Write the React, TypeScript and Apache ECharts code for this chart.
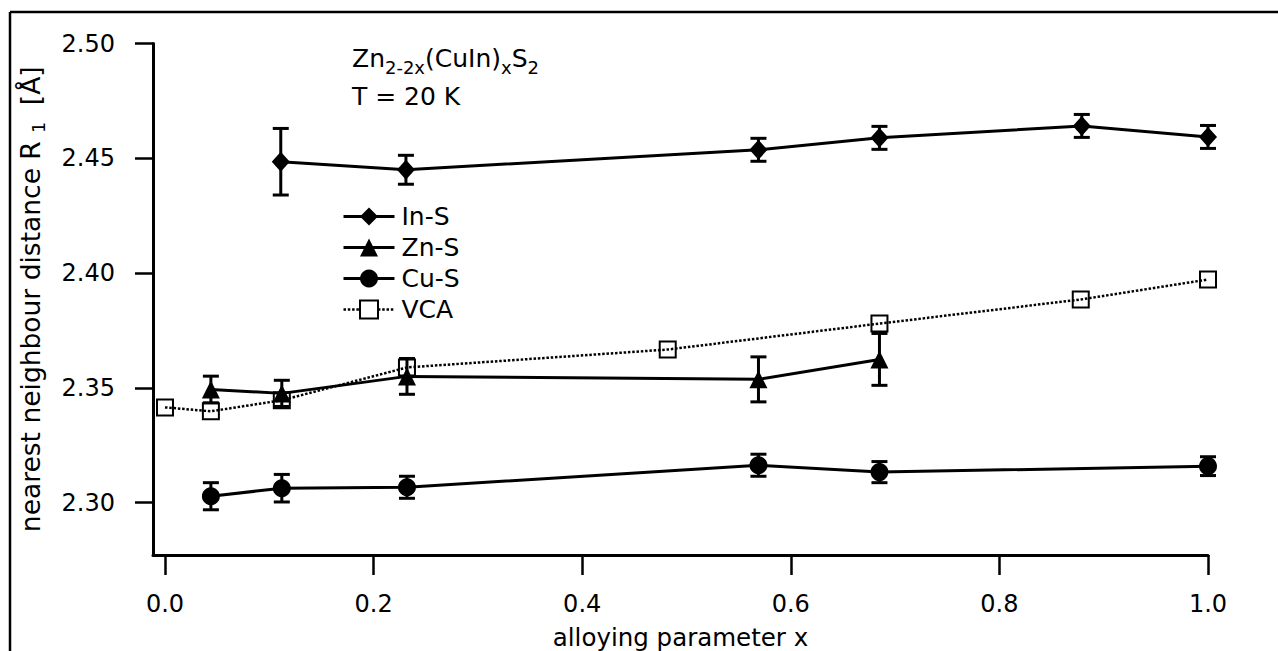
import React, { useEffect, useRef } from "react";
import * as echarts from "echarts";

const FONT = "'DejaVu Sans', 'Liberation Sans', sans-serif";

const X_TICKS = [0, 0.2, 0.4, 0.6, 0.8, 1.0];
const Y_TICKS = [2.3, 2.35, 2.4, 2.45, 2.5];

const IN_S_X = [0.111, 0.231, 0.569, 0.685, 0.879, 1.0];
const IN_S_Y = [2.4485, 2.445, 2.4537, 2.4589, 2.4641, 2.4593];
const IN_S_ERR = [0.0145, 0.0063, 0.005, 0.005, 0.005, 0.005];

const ZN_S_X = [0.044, 0.112, 0.232, 0.569, 0.685];
const ZN_S_Y = [2.3493, 2.3476, 2.355, 2.3537, 2.3624];
const ZN_S_ERR = [0.0058, 0.0057, 0.0078, 0.0098, 0.0113];

const CU_S_X = [0.044, 0.112, 0.232, 0.569, 0.685, 1.0];
const CU_S_Y = [2.3028, 2.3063, 2.3067, 2.3163, 2.3133, 2.3159];
const CU_S_ERR = [0.0059, 0.006, 0.0048, 0.0048, 0.0046, 0.0041];

const VCA_X = [0, 0.044, 0.112, 0.232, 0.482, 0.685, 0.878, 1.0];
const VCA_Y = [2.3415, 2.3398, 2.3446, 2.3589, 2.3667, 2.378, 2.3885, 2.3972];

const pts = (xs: number[], ys: number[]) => xs.map((x, i) => [x, ys[i]]);
const errs = (xs: number[], ys: number[], es: number[]) =>
  xs.map((x, i) => [x, ys[i] - es[i], ys[i] + es[i]]);

const errorSeries = (data: number[][]) => ({
  type: "custom",
  z: 1,
  silent: true,
  encode: { x: 0, y: [1, 2] },
  data,
  renderItem: (_params: any, api: any) => {
    const x = api.value(0);
    const lo = api.value(1);
    const hi = api.value(2);
    const t = api.coord([x, hi]);
    const b = api.coord([x, lo]);
    const w = 8;
    const style = { stroke: "#000", lineWidth: 3 };
    return {
      type: "group",
      children: [
        { type: "line", shape: { x1: t[0], y1: t[1], x2: b[0], y2: b[1] }, style },
        { type: "line", shape: { x1: t[0] - w, y1: t[1], x2: t[0] + w, y2: t[1] }, style },
        { type: "line", shape: { x1: b[0] - w, y1: b[1], x2: b[0] + w, y2: b[1] }, style },
      ],
    };
  },
});

const lineSeries = (name: string, data: number[][], symbol: string, size: any, extra: any = {}) => ({
  type: "line",
  name,
  z: 3,
  data,
  symbol,
  symbolSize: size,
  showAllSymbol: true,
  lineStyle: { color: "#000", width: 3 },
  itemStyle: { color: "#000" },
  emphasis: { disabled: true },
  ...extra,
});

export default function App() {
  const ref = useRef<HTMLDivElement>(null);
  useEffect(() => {
    if (!ref.current) return;
    const chart = echarts.init(ref.current, undefined, { renderer: "svg" });
    chart.setOption({
      animation: false,
      backgroundColor: "#fff",
      grid: { left: 153, right: 70, top: 43.5, bottom: 96, containLabel: false, outerBoundsMode: "none" },
      xAxis: {
        type: "value",
        min: -0.0115,
        max: 1.0,
        name: "alloying parameter x",
        nameLocation: "middle",
        nameGap: 69,
        nameTextStyle: { fontSize: 24.5, lineHeight: 26, fontFamily: FONT, color: "#000" },
        axisLine: { show: true, onZero: false, lineStyle: { color: "#000", width: 3 } },
        axisTick: { show: true, length: 20, customValues: X_TICKS, lineStyle: { color: "#000", width: 2.5 } },
        axisLabel: {
          customValues: X_TICKS,
          formatter: (v: number) => v.toFixed(1),
          fontSize: 24,
          fontFamily: FONT,
          color: "#000",
          margin: 37,
        },
        splitLine: { show: false },
      },
      yAxis: {
        type: "value",
        min: 2.2772,
        max: 2.5,
        name: "nearest neighbour distance R {s|1}  [Å]",
        nameLocation: "middle",
        nameGap: 106,
        nameTextStyle: {
          fontSize: 26.5,
          fontFamily: FONT,
          color: "#000",
          rich: { s: { fontSize: 17, fontFamily: FONT, color: "#000", padding: [16, 0, 0, 0] } },
        },
        axisLine: { show: true, onZero: false, lineStyle: { color: "#000", width: 3 } },
        axisTick: { show: true, length: 18, customValues: Y_TICKS, lineStyle: { color: "#000", width: 2.5 } },
        axisLabel: {
          customValues: Y_TICKS,
          formatter: (v: number) => v.toFixed(2),
          fontSize: 24,
          fontFamily: FONT,
          color: "#000",
          margin: 38,
        },
        splitLine: { show: false },
      },
      legend: {
        orient: "vertical",
        left: 337,
        top: 199,
        itemWidth: 51,
        itemHeight: 22.5,
        itemGap: 6,
        selectedMode: false,
        lineStyle: { width: 3 },
        data: [
          { name: "In-S" },
          { name: "Zn-S" },
          { name: "Cu-S" },
          { name: "VCA", lineStyle: { width: 2.5, type: [2.5, 1.8] }, itemStyle: { color: "#fff", borderColor: "#000", borderWidth: 2 } },
        ],
        textStyle: { fontSize: 25, fontFamily: FONT, color: "#000", padding: [0, 0, 0, 2] },
      },
      graphic: [
        { type: "line", shape: { x1: 10, y1: 12, x2: 1278, y2: 12 }, style: { stroke: "#000", lineWidth: 2.5 } },
        { type: "line", shape: { x1: 10, y1: 12, x2: 10, y2: 651 }, style: { stroke: "#000", lineWidth: 2.5 } },
        {
          type: "text",
          left: 352,
          top: 46,
          style: {
            text: "{m|Zn}{s|2-2x}{m|(CuIn)}{s|x}{m|S}{s|2}",
            rich: {
              m: { fontSize: 25, fontFamily: FONT, fill: "#000" },
              s: { fontSize: 18, fontFamily: FONT, fill: "#000", padding: [18, 0, 0, 0] },
            },
          },
        },
        {
          type: "text",
          left: 352,
          top: 84,
          style: { text: "T = 20 K", fontSize: 25, fontFamily: FONT, fill: "#000" },
        },
      ],
      series: [
        errorSeries(errs(IN_S_X, IN_S_Y, IN_S_ERR)),
        errorSeries(errs(ZN_S_X, ZN_S_Y, ZN_S_ERR)),
        errorSeries(errs(CU_S_X, CU_S_Y, CU_S_ERR)),
        lineSeries("In-S", pts(IN_S_X, IN_S_Y), "diamond", [18, 20]),
        lineSeries("Zn-S", pts(ZN_S_X, ZN_S_Y), "triangle", [18, 18]),
        lineSeries("Cu-S", pts(CU_S_X, CU_S_Y), "circle", 18),
        lineSeries("VCA", pts(VCA_X, VCA_Y), "rect", 16, {
          z: 4,
          lineStyle: { color: "#000", width: 2.5, type: [2.5, 1.8] },
          itemStyle: { color: "rgba(255,255,255,0)", borderColor: "#000", borderWidth: 2 },
        }),
      ],
    });
    return () => chart.dispose();
  }, []);
  return (
    <div
      ref={ref}
      style={{ position: "fixed", left: 0, top: 0, width: 1278, height: 651, background: "#fff" }}
    />
  );
}
